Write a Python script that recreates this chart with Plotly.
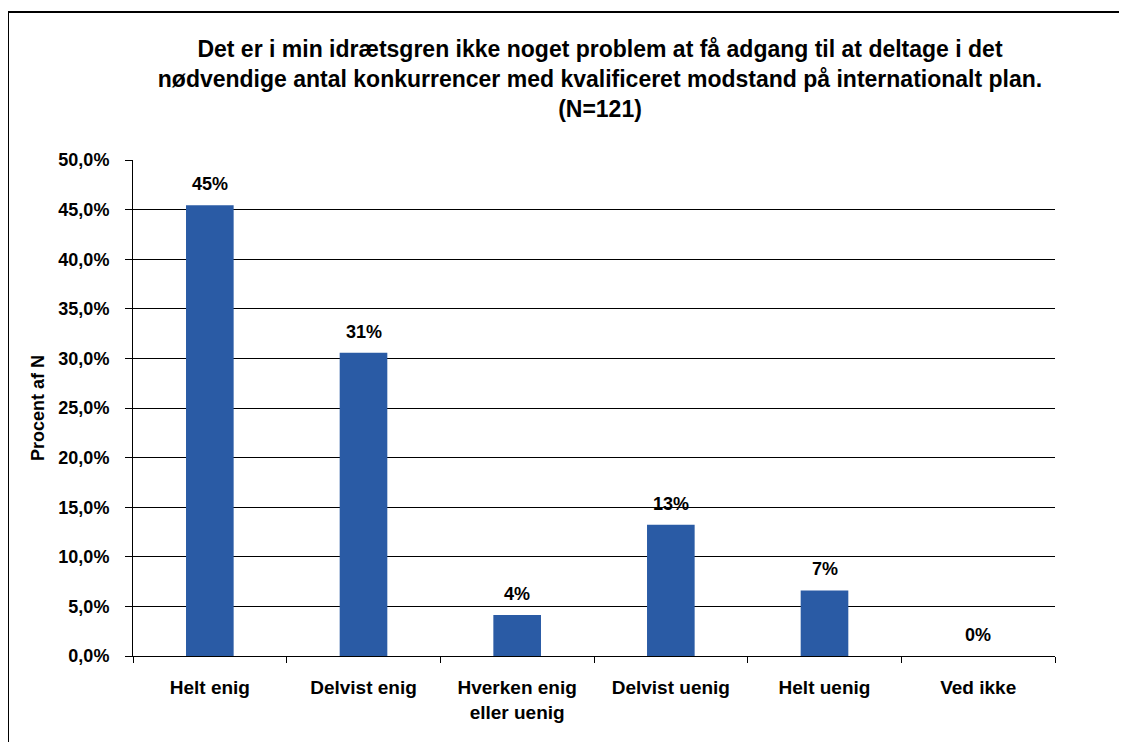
import plotly.graph_objects as go

# Kategorier og andele (N=121)
kategorier = ["Helt enig", "Delvist enig", "Hverken enig<br>eller uenig",
              "Delvist uenig", "Helt uenig", "Ved ikke"]
andele = [0.4545, 0.3058, 0.0413, 0.1322, 0.0661, 0.0]

titel = ("<b>Det er i min idrætsgren ikke noget problem at få adgang til at deltage i det<br>"
         "nødvendige antal konkurrencer med kvalificeret modstand på internationalt plan.<br>"
         "(N=121)</b>")

W, H = 1127, 742
# siden har 8px body-margin, så alt flyttes 8px op/til venstre
ml, mr, mt, mb = 125, 80, 152, 94
pw, ph = W - ml - mr, H - mt - mb
fnt = "Liberation Sans, Arial"

fig = go.Figure()
fig.add_trace(go.Bar(
    x=kategorier, y=andele,
    marker_color="#2A5BA5",
    marker_line_width=0,
))

# Procenttal over søjlerne
for k, v in zip(kategorier, andele):
    fig.add_annotation(x=k, y=v, text=f"<b>{v:.0%}</b>", showarrow=False,
                       yanchor="bottom", yshift=9,
                       font=dict(size=18, color="black", family=fnt))

fig.update_layout(
    width=W, height=H,
    margin=dict(l=ml, r=mr, t=mt, b=mb),
    paper_bgcolor="white", plot_bgcolor="white",
    separators=",.",
    font=dict(family=fnt, color="black"),
    title=dict(text=titel, x=592 / W, xanchor="center",
               y=1 - 49 / H, yanchor="top",
               font=dict(size=23, color="black")),
    bargap=0.69,
    showlegend=False,
)

fig.update_yaxes(
    range=[0, 0.5], dtick=0.05, tickformat=".1%",
    showgrid=True, gridcolor="black", gridwidth=1,
    showline=True, linecolor="black", linewidth=1,
    ticks="outside", ticklen=7, tickcolor="black",
    ticklabelstandoff=12,
    tickfont=dict(size=18, family=fnt, weight="bold"),
    title=dict(text="<b>Procent af N</b>", font=dict(size=18), standoff=9),
    zeroline=False,
)
fig.update_xaxes(
    showline=True, linecolor="black", linewidth=1,
    ticks="outside", tickson="boundaries", ticklen=6, tickcolor="black",
    ticklabelstandoff=14,
    tickfont=dict(size=19, family=fnt, weight="bold"),
)

# Ramme om diagrammet: kun venstre og øverste kant ses i billedet
fx = lambda px: (px - ml) / pw
fy = lambda py: (H - mb - py) / ph
ramme = dict(color="black", width=2)
fig.add_shape(type="line", xref="paper", yref="paper",
              x0=fx(0), x1=fx(1160), y0=fy(4), y1=fy(4), line=ramme)
fig.add_shape(type="line", xref="paper", yref="paper",
              x0=fx(0), x1=fx(0), y0=fy(4), y1=fy(800), line=ramme)

fig.write_html("out.html")
